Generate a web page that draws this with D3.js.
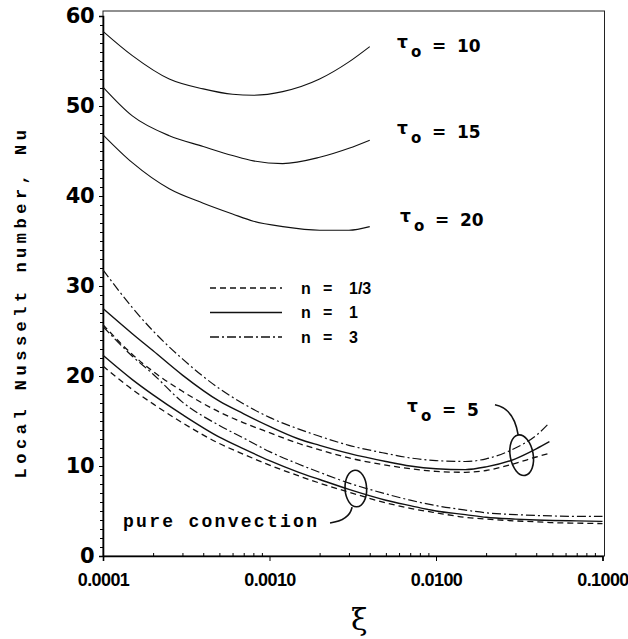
<!DOCTYPE html>
<html>
<head>
<meta charset="utf-8">
<script src="https://cdn.jsdelivr.net/npm/d3@7"></script>
<style>
	body { margin: 0; background: #fff; }
	text { fill: #000; }
</style>
</head>
<body>
<div id="chart"></div>
<script>
// ---- data ----
var xiHigh = [0.0001, 0.00015, 0.00025, 0.0004, 0.0006, 0.0008, 0.0012, 0.002, 0.003, 0.004];
var nuTau10 = [58.3, 55.6, 53.0, 51.9, 51.3, 51.2, 51.6, 53.0, 54.9, 56.6];
var nuTau15 = [52.1, 48.9, 46.7, 45.5, 44.5, 43.9, 43.6, 44.3, 45.3, 46.2];
var nuTau20 = [46.8, 43.7, 40.8, 39.2, 38.0, 37.2, 36.6, 36.2, 36.2, 36.6];

var xiTau5 = [0.0001, 0.00015, 0.0002, 0.0003, 0.0005, 0.0007, 0.001, 0.0015, 0.002, 0.003, 0.005, 0.007, 0.01, 0.015, 0.02, 0.03, 0.04, 0.048];
var nuTau5n13 = [25.7, 22.4, 20.5, 18.3, 16.0, 14.8, 13.7, 12.5, 11.8, 10.9, 10.1, 9.7, 9.4, 9.3, 9.5, 10.3, 11.0, 11.4];
var nuTau5n1 = [27.5, 24.7, 22.8, 20.1, 17.2, 15.8, 14.4, 13.0, 12.3, 11.4, 10.5, 10.0, 9.7, 9.6, 9.9, 10.8, 11.9, 12.7];
var nuTau5n3 = [31.8, 27.6, 25.0, 21.9, 18.6, 16.9, 15.4, 14.1, 13.3, 12.3, 11.4, 10.9, 10.6, 10.5, 10.8, 12.0, 13.4, 14.8];

var xiPure = [0.0001, 0.00015, 0.0002, 0.0003, 0.0005, 0.0007, 0.001, 0.0015, 0.002, 0.003, 0.005, 0.007, 0.01, 0.015, 0.02, 0.03, 0.04, 0.05, 0.07, 0.1];
var nuPureN13 = [21.1, 18.5, 16.9, 14.8, 12.5, 11.3, 10.1, 8.9, 8.1, 7.1, 5.9, 5.3, 4.8, 4.3, 4.1, 3.9, 3.8, 3.7, 3.65, 3.6];
var nuPureN1 = [22.3, 19.6, 17.9, 15.7, 13.2, 11.9, 10.6, 9.3, 8.5, 7.4, 6.2, 5.6, 5.0, 4.6, 4.3, 4.1, 4.0, 3.95, 3.9, 3.85];
var nuPureN3 = [25.5, 22.2, 20.2, 17.1, 14.5, 13.1, 11.6, 10.2, 9.3, 8.1, 6.9, 6.2, 5.6, 5.1, 4.8, 4.6, 4.5, 4.45, 4.4, 4.4];

var xTicks = [0.0001, 0.001, 0.01, 0.1];
var xTickLabels = ["0.0001", "0.0010", "0.0100", "0.1000"];
var yTicks = [0, 10, 20, 30, 40, 50, 60];
var legendLabels = ["n = 1/3", "n = 1", "n = 3"];
var tauLabels = ["10", "15", "20", "5"];

// ---- layout ----
var width = 628
var height = 639
var plotLeft = 103, plotRight = 602.5, plotTop = 16, plotBottom = 556
var dashN13 = "6,4"
var dashN3 = "9,3,2,3"

var svg = d3.select("#chart")
	.append("svg")
	.attr("width", width)
	.attr("height", height)
	.style("font-family", "'Liberation Sans', Arial, sans-serif");

var x = d3.scaleLog()
	.domain([0.0001, 0.1])
	.range([plotLeft, plotRight]);

var y = d3.scaleLinear()
	.domain([0, 60])
	.range([plotBottom, plotTop]);

// frame
svg.append("rect")
	.attr("x", plotLeft)
	.attr("y", 11)
	.attr("width", plotRight + 2 - plotLeft)
	.attr("height", plotBottom - 11)
	.attr("fill", "none")
	.attr("stroke", "#222")
	.attr("stroke-width", 1);

// x axis with log minor ticks
var minor = [];
[0.0001, 0.001, 0.01].forEach(function (d) {
	for (var k = 2; k < 10; k++) minor.push(d * k);
});

svg.append("g")
	.attr("transform", "translate(0," + plotBottom + ")")
	.call(d3.axisBottom(x).tickValues(minor).tickSize(-3).tickFormat(""))
	.call(function (g) { g.select(".domain").remove(); });

var xAxis = svg.append("g")
	.attr("transform", "translate(0," + plotBottom + ")")
	.call(d3.axisBottom(x)
		.tickValues(xTicks)
		.tickSize(5)
		.tickPadding(12)
		.tickFormat(function (d, i) { return xTickLabels[i]; }));
xAxis.select(".domain").attr("stroke-width", 1.6);
xAxis.selectAll("text")
	.style("font-size", "18px")
	.style("font-weight", "bold")
	.style("letter-spacing", "-0.6px")
	.style("font-family", "'Liberation Sans', Arial, sans-serif");

// y axis
svg.append("g")
	.attr("transform", "translate(" + plotLeft + ",0)")
	.call(d3.axisLeft(y).tickValues(d3.range(0, 61, 1)).tickSize(3).tickFormat(""))
	.call(function (g) { g.select(".domain").remove(); });

var yAxis = svg.append("g")
	.attr("transform", "translate(" + plotLeft + ",0)")
	.call(d3.axisLeft(y).tickValues(yTicks).tickSize(4).tickPadding(5));
yAxis.select(".domain").attr("stroke-width", 1.6);
yAxis.selectAll("text")
	.style("font-size", "21px")
	.style("font-weight", "bold")
	.style("letter-spacing", "-0.5px")
	.style("font-family", "'DejaVu Sans', sans-serif");

// axis titles
svg.append("text")
	.attr("transform", "translate(26,302) rotate(-90)")
	.attr("text-anchor", "middle")
	.style("font-family", "'Liberation Mono', 'Courier New', monospace")
	.style("font-weight", "bold")
	.style("font-size", "17px")
	.style("letter-spacing", "4.5px")
	.text("Local Nusselt number, Nu");

svg.append("text")
	.attr("x", (x(0.003) + x(0.004)) / 2)
	.attr("y", 630)
	.attr("text-anchor", "middle")
	.style("font-family", "'DejaVu Serif', serif")
	.style("font-size", "30px")
	.text("ξ");

// ---- curves ----
var line = d3.line()
	.x(function (d) { return x(d[0]); })
	.y(function (d) { return y(d[1]); })
	.curve(d3.curveMonotoneX);

var curves = [
	{ xi: xiHigh, nu: nuTau10, dash: null, w: 1.1 },
	{ xi: xiHigh, nu: nuTau15, dash: null, w: 1.1 },
	{ xi: xiHigh, nu: nuTau20, dash: null, w: 1.1 },
	{ xi: xiTau5, nu: nuTau5n13, dash: dashN13, w: 1.3 },
	{ xi: xiTau5, nu: nuTau5n1, dash: null, w: 1.4 },
	{ xi: xiTau5, nu: nuTau5n3, dash: dashN3, w: 1.2 },
	{ xi: xiPure, nu: nuPureN13, dash: dashN13, w: 1.3 },
	{ xi: xiPure, nu: nuPureN1, dash: null, w: 1.4 },
	{ xi: xiPure, nu: nuPureN3, dash: dashN3, w: 1.2 }
];

svg.selectAll("path.curve")
	.data(curves)
	.enter()
	.append("path")
	.attr("class", "curve")
	.attr("fill", "none")
	.attr("stroke", "#111")
	.attr("stroke-width", function (d) { return d.w; })
	.attr("stroke-dasharray", function (d) { return d.dash; })
	.attr("d", function (d) { return line(d.xi.map(function (v, i) { return [v, d.nu[i]]; })); });

// ---- legend ----
var legendDash = [dashN13, null, dashN3];
var legend = svg.append("g");
legendLabels.forEach(function (lab, i) {
	var ly = 288 + i * 24.5;
	legend.append("line")
		.attr("x1", 210).attr("x2", 282)
		.attr("y1", ly).attr("y2", ly)
		.attr("stroke", "#111")
		.attr("stroke-width", 1.4)
		.attr("stroke-dasharray", legendDash[i]);
	var parts = lab.split(" = ");
	var t = legend.append("text")
		.attr("y", ly + 5.5)
		.style("font-size", "16px")
		.style("font-weight", "bold");
	t.append("tspan").attr("x", 301).text(parts[0]);
	t.append("tspan").attr("x", 323).text("=");
	t.append("tspan").attr("x", 349).text(parts[1]);
});

// ---- tau labels ----
var tauPos = [[397, 52], [397, 138], [400, 226], [407, 416]];
tauLabels.forEach(function (v, i) {
	var px = tauPos[i][0], py = tauPos[i][1];
	var t = svg.append("text")
		.attr("y", py)
		.style("font-size", "17px")
		.style("font-weight", "bold")
		.style("font-family", "'DejaVu Sans', sans-serif");
	t.append("tspan").attr("x", px).attr("y", py - 4).text("τ");
	t.append("tspan").attr("x", px + 14).attr("y", py + 5).style("font-size", "15px").text("o");
	t.append("tspan").attr("x", px + 35).attr("y", py).text("=");
	t.append("tspan").attr("x", px + 60).attr("y", py).text(v);
});

// pure convection label
svg.append("text")
	.attr("x", 123)
	.attr("y", 527)
	.attr("textLength", 194)
	.attr("lengthAdjust", "spacing")
	.style("font-family", "'Liberation Mono', 'Courier New', monospace")
	.style("font-weight", "bold")
	.style("font-size", "18px")
	.text("pure convection");

// ---- ellipses and leader lines ----
var ellipses = [
	{ xi: 0.0327, nu: 11.2, rx: 11.5, ry: 20.5, rot: -10 },
	{ xi: 0.0033, nu: 7.5, rx: 10.8, ry: 18.3, rot: -3 }
];
svg.selectAll("ellipse.ring")
	.data(ellipses)
	.enter()
	.append("ellipse")
	.attr("class", "ring")
	.attr("fill", "none")
	.attr("stroke", "#111")
	.attr("stroke-width", 1.6)
	.attr("rx", function (d) { return d.rx; })
	.attr("ry", function (d) { return d.ry; })
	.attr("transform", function (d) {
		return "translate(" + x(d.xi) + "," + y(d.nu) + ") rotate(" + d.rot + ")";
	});

var leaders = [
	[[0.0226, 16.8], [0.0294, 16.4], [0.0312, 13.4]],
	[[0.00231, 3.67], [0.00304, 4.0], [0.00313, 5.44]]
];
leaders.forEach(function (p) {
	svg.append("path")
		.attr("fill", "none")
		.attr("stroke", "#111")
		.attr("stroke-width", 1.6)
		.attr("d", "M" + x(p[0][0]) + "," + y(p[0][1]) +
			" Q" + x(p[1][0]) + "," + y(p[1][1]) +
			" " + x(p[2][0]) + "," + y(p[2][1]));
});
</script>
</body>
</html>
